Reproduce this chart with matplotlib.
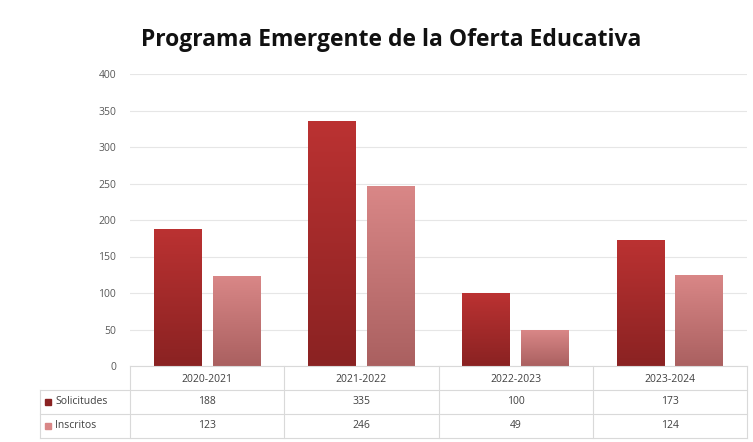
import numpy as np
import matplotlib
matplotlib.use("Agg")
import matplotlib.pyplot as plt
from matplotlib.colors import LinearSegmentedColormap
from matplotlib.patches import Rectangle

plt.rcParams['font.family'] = ['Open Sans', 'DejaVu Sans']

categorias = ['2020-2021', '2021-2022', '2022-2023', '2023-2024']
solicitudes = [188, 335, 100, 173]
inscritos = [123, 246, 49, 124]
series = ['Solicitudes', 'Inscritos']
valores = [solicitudes, inscritos]
colores = [('#bb3232', '#8a2222'), ('#d98787', '#aa6060')]  # arriba, abajo
yticks = [0, 50, 100, 150, 200, 250, 300, 350, 400]

W, H = 753, 442
fig = plt.figure(figsize=(W / 100, H / 100), dpi=100)
ax = fig.add_axes([130 / W, (H - 366) / H, 617 / W, 292 / H])

x = np.arange(len(categorias))
ancho = 0.31
offs = [-0.19, 0.19]
grad = np.linspace(1, 0, 256).reshape(-1, 1)

for vals, off, (c1, c2), nom in zip(valores, offs, colores, series):
    cmap = LinearSegmentedColormap.from_list(nom, [c2, c1])
    barras = ax.bar(x + off, vals, ancho, color='none', edgecolor='none', zorder=3)
    for b in barras:
        x0, y0 = b.get_x(), b.get_y()
        w, h = b.get_width(), b.get_height()
        im = ax.imshow(grad, cmap=cmap, aspect='auto', extent=[x0, x0 + w, y0, y0 + h],
                       zorder=3, vmin=0, vmax=1)
        im.set_clip_path(b)

ax.set_xlim(-0.5, len(categorias) - 0.5)
ax.set_ylim(0, 400)
ax.set_yticks(yticks)
ax.tick_params(axis='y', length=0, labelsize=7.5, labelcolor='#595959', pad=10)
ax.set_xticks([])
ax.grid(axis='y', color='#e6e6e6', linewidth=0.8, zorder=0)
for s in ax.spines.values():
    s.set_visible(False)

fig.text(0.52, 1 - 40 / H, 'Programa Emergente de la Oferta Educativa',
         ha='center', va='center', fontsize=16.5, fontweight='bold', color='#111111')

# tabla de datos debajo del grafico
def fx(px):
    return px / W

def fy(py):
    return 1 - py / H

lc = '#d9d9d9'
filas = [366, 390, 414, 438]
bordes = np.linspace(130, 747, len(categorias) + 1)
for i, py in enumerate(filas):
    x_ini = 130 if i == 0 else 40
    fig.add_artist(plt.Line2D([fx(x_ini), fx(747)], [fy(py), fy(py)], color=lc, lw=0.8))
for i, bx in enumerate(bordes):
    fig.add_artist(plt.Line2D([fx(bx), fx(bx)], [fy(366), fy(438)], color=lc, lw=0.8))
fig.add_artist(plt.Line2D([fx(40), fx(40)], [fy(390), fy(438)], color=lc, lw=0.8))

centros = (bordes[:-1] + bordes[1:]) / 2
for c, cat in zip(centros, categorias):
    fig.text(fx(c), fy(379), cat, ha='center', va='center', fontsize=7.5, color='#404040')

for r, (nom, vals, (c1, c2)) in enumerate(zip(series, valores, colores)):
    yc = (filas[r + 1] + filas[r + 2]) / 2
    fig.add_artist(Rectangle((fx(45), fy(yc + 3)), 6 / W, 6 / H, color=c2 if r == 0 else c1))
    fig.text(fx(55), fy(yc), nom, ha='left', va='center', fontsize=7.5, color='#404040')
    for c, v in zip(centros, vals):
        fig.text(fx(c), fy(yc), str(v), ha='center', va='center', fontsize=7.5, color='#404040')

fig.savefig('out.png', dpi=100)
